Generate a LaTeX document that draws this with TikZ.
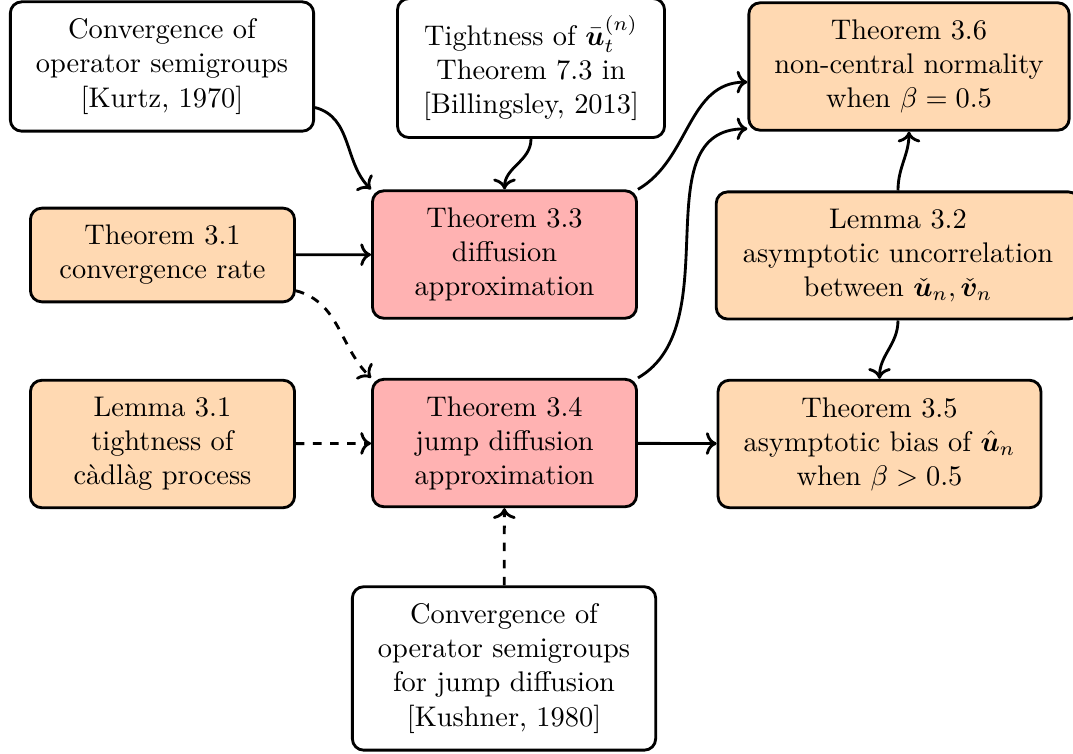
\documentclass[tikz,border=0pt]{standalone}
\usepackage{bm}
\usepackage{amssymb}
\usepackage{amsmath}
\usepackage{tikz}
\usetikzlibrary{arrows.meta}
\tikzset{
    box/.style={draw, line width=1pt, rounded corners, align=center, inner xsep=9pt, inner ysep=6pt, minimum width=93pt}, % common box
    ref box/.style={box, fill=white}, % cited results
    key box/.style={box, fill=orange!30}, % lemmas and theorems
    main box/.style={box, fill=red!30}, % approximation theorems
    link/.style={line width=1pt, -{To}} % connectors
}

\begin{document}
\begin{tikzpicture}[font=\normalsize]
            \useasboundingbox (0,0) rectangle (13.28,-9.33);

            \node[ref box] (kurtz) at (2.005,-0.823) {Convergence of\\operator semigroups\\{[Kurtz, 1970]}};
            \node[ref box] (bill) at (6.572,-0.842) {Tightness of $\bar{\bm{u}}_t^{(n)}$\\Theorem 7.3 in\\{[Billingsley, 2013]}};
            \node[key box] (thm36) at (11.25,-0.823) {Theorem 3.6\\non-central normality\\when $\beta=0.5$};

            \node[key box] (thm31) at (2.011,-3.156) {Theorem 3.1\\convergence rate};
            \node[main box] (thm33) at (6.244,-3.15) {Theorem 3.3\\diffusion\\approximation};
            \node[key box, minimum width=128pt] (lem32) at (11.114,-3.162) {Lemma 3.2\\asymptotic uncorrelation\\between $\check{\bm{u}}_n, \check{\bm{v}}_n$};

            \node[key box] (lem31) at (2.011,-5.495) {Lemma 3.1\\tightness of\\c\`adl\`ag process};
            \node[main box] (thm34) at (6.244,-5.483) {Theorem 3.4\\jump diffusion\\approximation};
            \node[key box] (thm35) at (10.885,-5.495) {Theorem 3.5\\asymptotic bias of $\hat{\bm{u}}_n$\\when $\beta>0.5$};

            \node[ref box] (kushner) at (6.238,-8.273) {Convergence of\\operator semigroups\\for jump diffusion\\{[Kushner, 1980]}};

            \draw[link] (kurtz) to[out=-15, in=135] (thm33.north west);
            \draw[link] (bill) to[out=-90, in=90] (thm33);
            \draw[link] (thm31) -- (thm33);
            \draw[link, dashed] (thm31) to[out=-15, in=135] (thm34.north west);
            \draw[link, dashed] (lem31) -- (thm34);
            \draw[link, dashed] (kushner) -- (thm34);
            \draw[link] (thm34) -- (thm35);
            \draw[link] (thm33.north east) to[out=30, in=180] ([yshift=-5.5pt]thm36.west);
            \draw[link] (thm34.north east) to[out=30, in=180] ([yshift=1pt]thm36.south west);
            \draw[link] (lem32) to[out=90, in=-90] (thm36);
            \draw[link] (lem32) to[out=-90, in=90] (thm35);
        \end{tikzpicture}
\end{document}
